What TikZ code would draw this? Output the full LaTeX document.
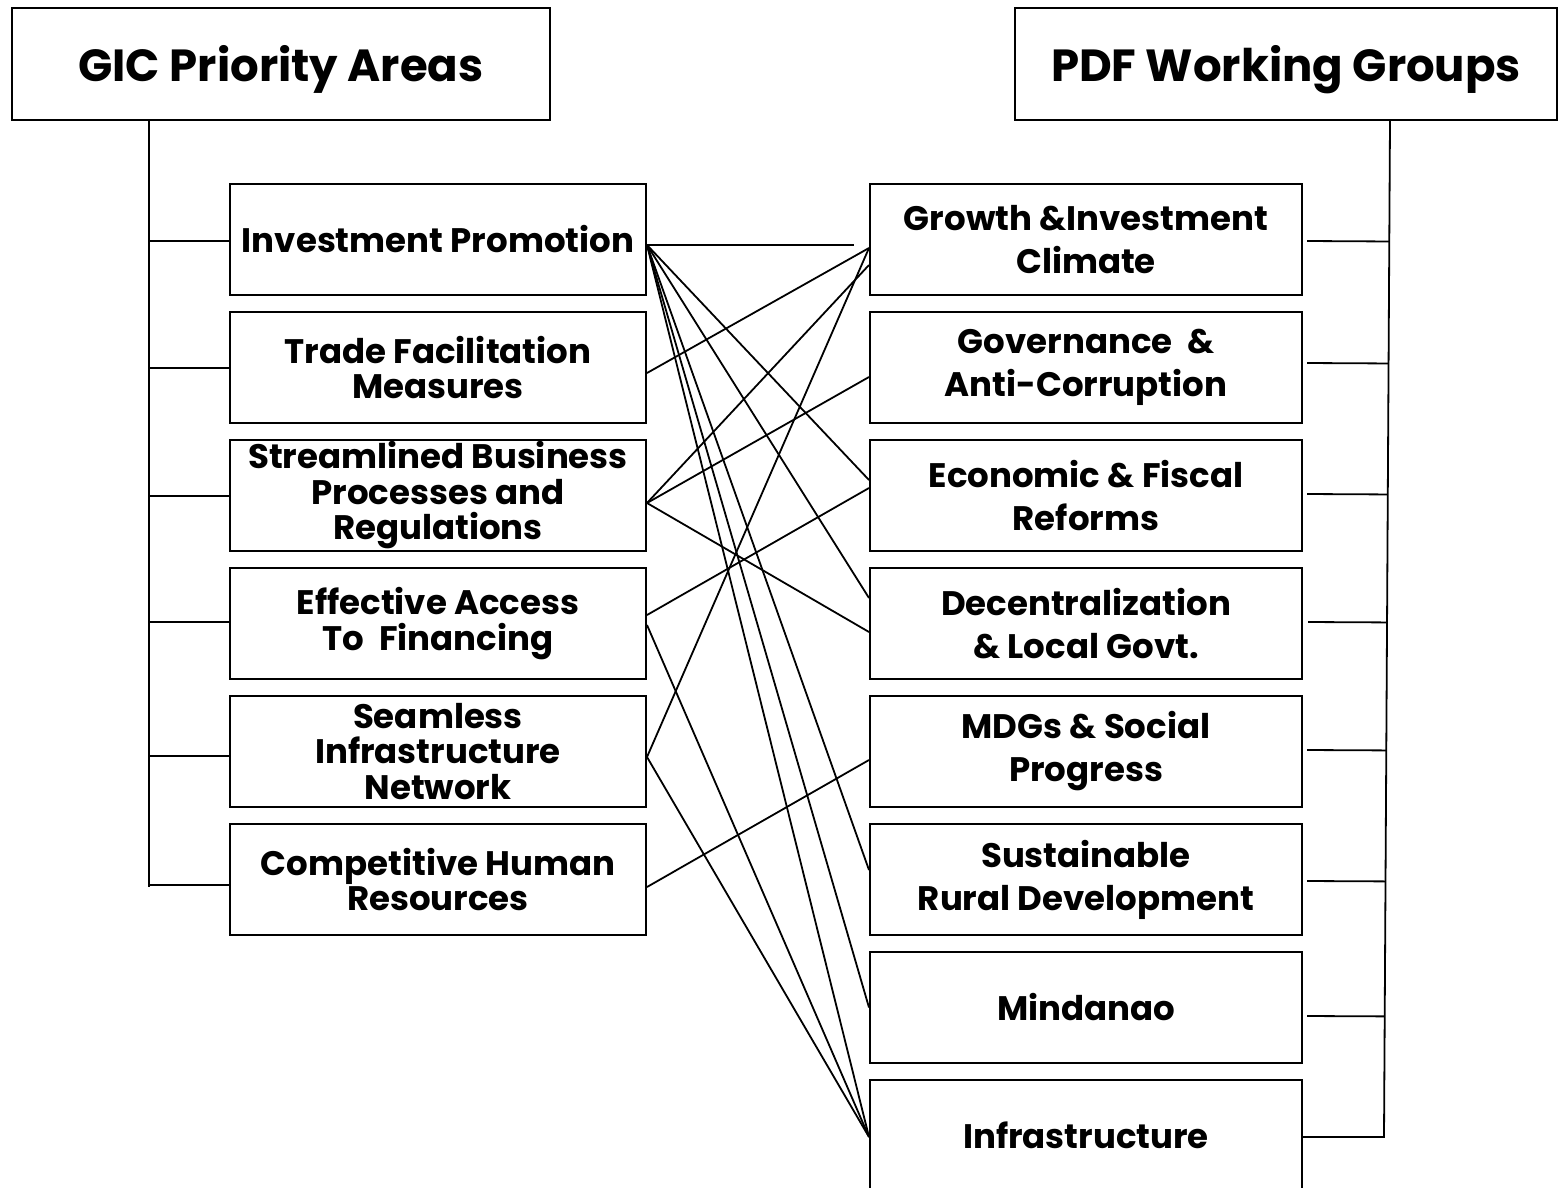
\documentclass[tikz,border=0pt]{standalone}
\usepackage{fontspec}
\setmainfont{Poppins}
\usetikzlibrary{calc}
\begin{document}
\begin{tikzpicture}[x=1pt,y=-1pt,
  box/.style={draw, line width=2pt, align=center, inner sep=0pt, minimum height=111pt},
  lbox/.style={box, minimum width=416pt, font=\bfseries\fontsize{34}{35.5}\selectfont},
  rbox/.style={box, minimum width=432pt, font=\bfseries\fontsize{34}{43}\selectfont},
  hbox/.style={box, minimum height=112pt, font=\bfseries\fontsize{45}{50}\selectfont},
  conn/.style={line width=1.8pt},
  tree/.style={line width=1.8pt}]
\useasboundingbox (0,0) rectangle (1559,1187);
\fill[white] (0,0) rectangle (1559,1187);
% headers
\node[hbox, minimum width=538pt] (lh) at (281,64) {\raisebox{-17pt}[0pt][0pt]{GIC Priority Areas}};
\node[hbox, minimum width=542pt] (rh) at (1286,64) {\raisebox{-17pt}[0pt][0pt]{PDF Working Groups}};
% left boxes
\node[lbox] (ip) at (438,239.5) {Investment Promotion};
\node[lbox] (tf) at (438,367.5) {Trade Facilitation\\Measures};
\node[lbox] (sb) at (438,495.5) {Streamlined Business\\Processes and\\Regulations};
\node[lbox] (ea) at (438,623.5) {Effective Access\\To\ \ Financing};
\node[lbox] (si) at (438,751.5) {Seamless\\Infrastructure\\Network};
\node[lbox] (ch) at (438,879.5) {Competitive Human\\Resources};
% right boxes
\node[rbox] (gr) at (1086,239.5) {Growth \&Investment\\Climate};
\node[rbox] (gov) at (1086,367.5) {Governance\ \ \&\\Anti-Corruption};
\node[rbox] (eco) at (1086,495.5) {Economic \& Fiscal\\Reforms};
\node[rbox] (dec) at (1086,623.5) {Decentralization\\\& Local Govt.};
\node[rbox] (mdg) at (1086,751.5) {MDGs \& Social\\Progress};
\node[rbox] (sus) at (1086,879.5) {Sustainable\\Rural Development};
\node[rbox] (min) at (1086,1007.5) {Mindanao};
\node[rbox] (inf) at (1086,1135.5) {Infrastructure};
% left tree
\coordinate (ltop) at ([xshift=138pt]lh.south west);
\coordinate (ls1) at ([yshift=-1.5pt]ip.west);
\coordinate (ls2) at ([yshift=-0.5pt]tf.west);
\coordinate (ls3) at ([yshift=-0.5pt]sb.west);
\coordinate (ls4) at ([yshift=1.5pt]ea.west);
\coordinate (ls5) at ([yshift=-4.5pt]si.west);
\coordinate (ls6) at ([yshift=-5.5pt]ch.west);
\draw[tree] (ltop) -- ($(ltop |- ls6)+(0,2)$);
\foreach \s in {ls1,ls2,ls3,ls4,ls5,ls6} \draw[tree] (\s) -- (ltop |- \s);
% right tree
\coordinate (rtop) at ([xshift=376pt]rh.south west);
\coordinate (rend) at ([yshift=-1.5pt]inf.east);
\coordinate (rbot) at ([xshift=81pt]rend);
\draw[tree] (rtop) -- (rbot) -- (rend);
\coordinate (rs1) at ([xshift=4pt,yshift=-1.5pt]gr.east);
\coordinate (rs2) at ([xshift=4pt,yshift=4.5pt]gov.east);
\coordinate (rs3) at ([xshift=4pt,yshift=1.5pt]eco.east);
\coordinate (rs4) at ([xshift=5pt,yshift=1.5pt]dec.east);
\coordinate (rs5) at ([xshift=4pt,yshift=1.5pt]mdg.east);
\coordinate (rs6) at ([xshift=4pt,yshift=-1.5pt]sus.east);
\coordinate (rs7) at ([xshift=4pt,yshift=-8.5pt]min.east);
\foreach \s in {rs1,rs2,rs3,rs4,rs5,rs6,rs7} \draw[tree] (\s) -- ($(rtop)!(\s)!(rbot)$);
% connection points, left side
\coordinate (ipR) at ([yshift=-5.5pt]ip.east);
\coordinate (tfR) at ([yshift=-5.5pt]tf.east);
\coordinate (sbR) at ([yshift=-7.5pt]sb.east);
\coordinate (eaR1) at ([yshift=8.5pt]ea.east);
\coordinate (eaR2) at ([yshift=-1.5pt]ea.east);
\coordinate (siR) at ([yshift=-5.5pt]si.east);
\coordinate (chR) at ([yshift=-7.5pt]ch.east);
% connection points, right side
\coordinate (ipEnd) at ([xshift=-15pt,yshift=-5.5pt]gr.west);
\coordinate (grL1) at ([yshift=-8.5pt]gr.west);
\coordinate (grL2) at ([yshift=-25.5pt]gr.west);
\coordinate (govL) at ([yshift=-9.5pt]gov.west);
\coordinate (ecoL1) at ([yshift=15.5pt]eco.west);
\coordinate (ecoL2) at ([yshift=7.5pt]eco.west);
\coordinate (decL1) at ([yshift=25.5pt]dec.west);
\coordinate (decL2) at ([yshift=-8.5pt]dec.west);
\coordinate (mdgL) at ([yshift=-8.5pt]mdg.west);
\coordinate (susL) at ([yshift=9.5pt]sus.west);
\coordinate (minL) at (min.west);
\coordinate (infL) at ([yshift=-1.5pt]inf.west);
% connectors
\draw[conn] (ipR) -- (ipEnd);
\draw[conn] (ipR) -- (ecoL1);
\draw[conn] (ipR) -- (decL1);
\draw[conn] (ipR) -- (susL);
\draw[conn] (ipR) -- (minL);
\draw[conn] (ipR) -- (infL);
\draw[conn] (tfR) -- (grL1);
\draw[conn] (sbR) -- (grL2);
\draw[conn] (sbR) -- (govL);
\draw[conn] (sbR) -- (decL2);
\draw[conn] (eaR1) -- (ecoL2);
\draw[conn] (eaR2) -- (infL);
\draw[conn] (siR) -- (grL1);
\draw[conn] (siR) -- (infL);
\draw[conn] (chR) -- (mdgL);
\end{tikzpicture}
\end{document}
